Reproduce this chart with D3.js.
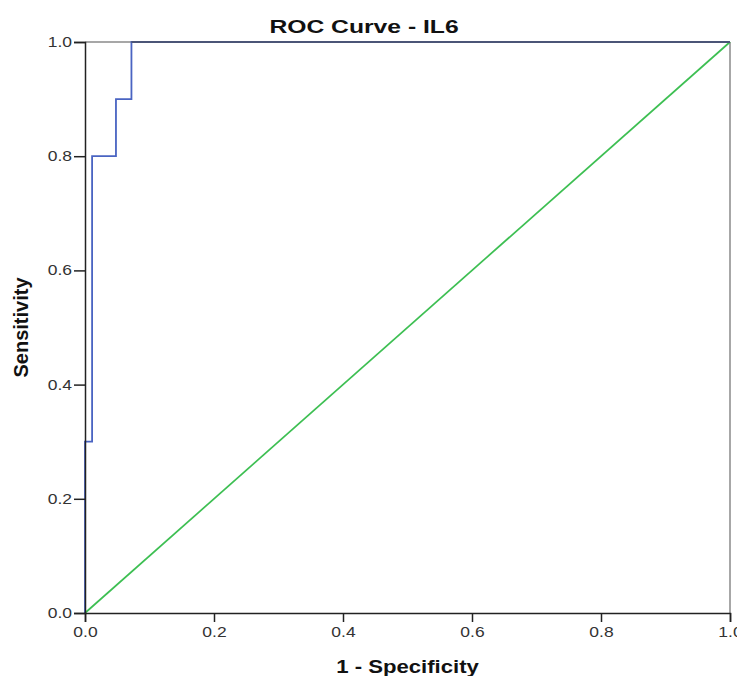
<!DOCTYPE html>
<html>
<head>
<meta charset="utf-8">
<script src="https://cdn.jsdelivr.net/npm/d3@7"></script>
<style>
  html, body { margin: 0; padding: 0; background: #fff; }
  svg { display: block; }
</style>
</head>
<body>
<svg id="chart" width="737" height="676"></svg>
<script>
// Data
const rocFPR = [0, 0, 0.011, 0.011, 0.048, 0.048, 0.072, 0.072, 1.0];
const rocTPR = [0, 0.3, 0.3, 0.8, 0.8, 0.9, 0.9, 1.0, 1.0];
const refLine = [0, 1];
const xTicks = [0, 0.2, 0.4, 0.6, 0.8, 1.0];
const yTicks = [0, 0.2, 0.4, 0.6, 0.8, 1.0];
const titleText = "ROC Curve - IL6";
const xLabel = "1 - Specificity";
const yLabel = "Sensitivity";

(function () {
const svg = d3.select("#chart");
const mL = 85, mR = 730, mT = 42, mB = 613;
const sx = 1.25; // horizontal stretch of the reference's text
const x = d3.scaleLinear().domain([0, 1]).range([mL, mR]);
const y = d3.scaleLinear().domain([0, 1]).range([mB, mT]);
const font = "'Liberation Sans', Arial, sans-serif";

// frame top & right (gray)
svg.append("line").attr("x1", mL).attr("x2", mR).attr("y1", mT).attr("y2", mT)
  .attr("stroke", "#8a8a8a").attr("stroke-width", 1.5);
svg.append("line").attr("x1", mR).attr("x2", mR).attr("y1", mT).attr("y2", mB)
  .attr("stroke", "#8a8a8a").attr("stroke-width", 1.5);

// reference diagonal
svg.append("line")
  .attr("x1", x(refLine[0])).attr("y1", y(refLine[0]))
  .attr("x2", x(refLine[1])).attr("y2", y(refLine[1]))
  .attr("stroke", "#3dbf52").attr("stroke-width", 1.7);

// ROC curve
const pts = rocFPR.map((f, i) => [f, rocTPR[i]]);
svg.append("path")
  .datum(pts)
  .attr("d", d3.line().x(d => x(d[0])).y(d => y(d[1])))
  .attr("fill", "none")
  .attr("stroke", "#4a64c2")
  .attr("stroke-width", 1.8);

// overlap of curve with top border appears darker
svg.append("line").attr("x1", x(rocFPR[7])).attr("x2", mR).attr("y1", mT).attr("y2", mT)
  .attr("stroke", "#4b5577").attr("stroke-width", 2);

// axes
const xAxis = svg.append("g").attr("transform", `translate(0,${mB})`)
  .call(d3.axisBottom(x).tickValues(xTicks).tickFormat(d3.format(".1f")).tickSize(9).tickPadding(5));
const yAxis = svg.append("g").attr("transform", `translate(${mL},0)`)
  .call(d3.axisLeft(y).tickValues(yTicks).tickFormat(d3.format(".1f")).tickSize(11).tickPadding(2));
[xAxis, yAxis].forEach(g => {
  g.select(".domain").attr("stroke", "#222").attr("stroke-width", 1.5);
  g.selectAll(".tick line").attr("stroke", "#222").attr("stroke-width", 1.5);
  g.selectAll(".tick text").attr("fill", "#333").style("font-family", font).style("font-size", "14px");
});
xAxis.selectAll(".tick text").attr("transform", `scale(${sx},1)`);
yAxis.selectAll(".tick text").attr("transform", `scale(${sx},1)`).attr("x", -13 / sx);

// title
svg.append("text").attr("transform", `translate(364,33) scale(1.3,1)`).attr("text-anchor", "middle")
  .style("font-family", font).style("font-weight", "bold").style("font-size", "19px").attr("fill", "#111")
  .text(titleText);
// x label
svg.append("text").attr("transform", `translate(${(mL + mR) / 2},673) scale(1.23,1)`).attr("text-anchor", "middle")
  .style("font-family", font).style("font-weight", "bold").style("font-size", "18px").attr("fill", "#111")
  .text(xLabel);
// y label
svg.append("text").attr("transform", `translate(28,${(mT + mB) / 2}) rotate(-90)`)
  .attr("text-anchor", "middle")
  .style("font-family", font).style("font-weight", "bold").style("font-size", "20px").attr("fill", "#111")
  .text(yLabel);
})();
</script>
</body>
</html>
